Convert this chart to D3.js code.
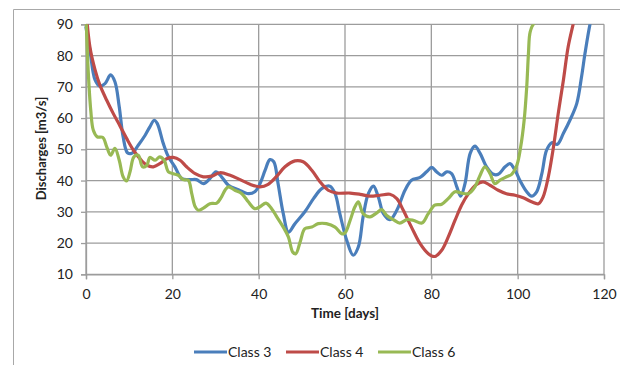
<!DOCTYPE html>
<html>
<head>
<meta charset="utf-8">
<script src="https://cdn.jsdelivr.net/npm/d3@7"></script>
<style>
html,body{margin:0;padding:0;background:#fff;}
svg{display:block;}
text{font-family:Lato,"Open Sans","Liberation Sans",sans-serif;fill:#222;}
</style>
</head>
<body>
<svg id="chart" width="620" height="365"></svg>
<script>
const xTicks = [0, 20, 40, 60, 80, 100, 120];
const yTicks = [10, 20, 30, 40, 50, 60, 70, 80, 90];
const seriesNames = ["Class 3", "Class 4", "Class 6"];
const seriesColors = ["#4a7ebb", "#be4b48", "#98b954"];

const days3 = [0,0.9,2.1,3.2,4.4,5.7,6.7,7.7,8.6,9.6,10.6,12.1,13.7,14.8,15.8,16.5,17.9,19.1,20.6,22.2,24.1,25.6,27.2,28.7,30.1,31.4,33,35.3,37.6,39.1,40.3,41.5,42.6,43.5,44.5,45.7,46.9,48.4,50.7,52.7,54.6,56.5,57.7,58.8,60.4,61.9,63.1,64.2,65.4,66.6,67.7,68.9,70.4,72,73.9,75.4,77.4,78.9,80.1,81.2,82.4,83.6,84.7,85.9,86.8,87.8,89,90.1,91.3,92.8,94.4,95.5,97.1,98.2,99.4,100.5,102.1,103.2,104.4,105.6,106.7,107.9,109.2,110.6,112.1,113.7,114.8,115.6,116.8,117.5];
const class3 = [89,81.8,72.2,70.2,71,73.8,71.6,63.6,54,48.9,48.7,51.3,54.5,57.2,59.3,58.3,51.9,47.6,44.4,40.6,40.3,40.3,39,40.6,42.8,41.2,38.5,37.1,35.8,36.4,39,43.3,46.7,46,39,29.4,23.5,26.2,30,34.2,37.4,38.2,35.8,29.4,20.9,16.1,18.8,28.4,35.8,38.2,34.8,29.4,27.5,30.5,36.9,40.1,41,42.8,44.2,42.8,41.7,42.8,42.2,38,35,39,48.7,51,48.7,44.4,42,42,44.4,45.4,43.3,40.1,36.4,35,36.4,42.2,49.7,52.1,51.6,55.1,59.3,64.7,73.2,80.7,90.3,94];

const days4 = [0,0.9,2.1,3.2,4.8,6.3,7.9,9.4,11,12.5,14.1,15.6,17.1,18.7,20.2,21.8,23.3,25.3,27.2,29.1,31,33.4,35.7,38,40.3,42.2,44.2,46.1,48.4,50.3,52.3,54.2,56.1,58.1,61.2,63.5,65.8,68.1,70.4,72,73.5,75.4,77.4,79.3,80.8,82.4,83.9,85.5,87,88.6,90.3,92,93.6,95.5,97.4,99.4,101.3,103.2,104.8,105.9,107.1,108.3,109.4,110.6,111.7,112.9,113.5];
const class4 = [95,82.8,75.4,70.6,65.7,61.5,57.4,53.5,49.7,47,44.9,44.4,45.4,47,47.4,46.5,44.4,42.2,41.2,41.4,42.5,41.7,40.3,38.8,38,38.8,41.4,44.4,46.3,46,43.3,39.6,36.9,36,36,35.6,35,35.3,35.6,34.2,30.5,25.1,19.8,16.6,15.7,17.7,21.9,27.3,32.1,35.8,38.6,39.6,38.5,36.9,35.8,35.3,34.5,33.2,32.6,34.8,41.2,50.8,61.5,72.2,82.8,90.3,94];

const days6 = [0,0.5,1.1,1.7,2.6,3.9,4.8,5.7,6.7,7.7,8.6,9.4,10.2,11.1,12.1,13.1,14.1,14.8,16,17.1,18.1,19.1,20.2,21.4,22.5,23.7,24.5,25.3,26,27.2,28.7,30.3,31.4,32.2,33,34.5,36.1,37.6,39.1,40.3,41.7,43,44.2,45.7,46.9,47.9,48.6,49.6,50.7,52.3,53.8,55.7,57.7,59.2,60,61.2,62.3,63.1,64.2,65.8,67.3,68.5,69.6,71.2,72.7,74.3,75.8,77.8,79.3,80.8,82.4,83.9,85.5,87,88.6,90.1,91.3,92.4,93.6,94.7,95.9,97.4,98.6,99.8,100.7,101.5,102.1,102.5,102.9,103.8,105];
const class6 = [93,75.4,62.5,56.1,54,53.8,50.8,48.1,50.3,46.5,41.2,39.9,42.8,47.6,48.1,44.4,44.9,47.4,46.5,47.6,46.5,42.8,42.2,41.7,40.3,40.1,35.8,31.6,30.5,31.2,32.6,32.8,34.8,36.9,38,36.9,35.8,33.2,31,31.6,32.8,31,28.4,25.1,21.9,17.1,16.6,20.3,24.6,25.1,26.2,26.2,25.1,23,23.2,27.3,31.6,33.2,29.4,28.4,29.6,30.7,28.9,27.5,26.4,27.5,27.3,26.4,29.4,32.1,32.4,34.2,36.4,36,35.8,38,41.7,44.4,42.2,39,40.1,41.2,42,44.9,50.8,59.3,70,80.7,87.6,90.3,91];

const seriesDays = [days3, days4, days6];
const seriesVals = [class3, class4, class6];

const svg = d3.select("#chart");
const x = d3.scaleLinear().domain([0, 120]).range([86, 604]);
const y = d3.scaleLinear().domain([10, 90]).range([274.3, 24.3]);
const gridColor = "#9c9c9c";

// outer frame
svg.append("path")
  .attr("d", "M13.5,365 V9.5 H620")
  .attr("fill", "none").attr("stroke", "#a8a8a8").attr("stroke-width", 1);

// grid
const g = svg.append("g");
g.selectAll("line.h").data(yTicks).enter().append("line")
  .attr("x1", x(0)).attr("x2", x(120))
  .attr("y1", d => y(d)).attr("y2", d => y(d))
  .attr("stroke", gridColor).attr("stroke-width", 1.3);
g.selectAll("line.v").data(xTicks).enter().append("line")
  .attr("y1", y(10)).attr("y2", y(90))
  .attr("x1", d => x(d)).attr("x2", d => x(d))
  .attr("stroke", gridColor).attr("stroke-width", 1.3);

// axes
const yAxis = d3.axisLeft(y).tickValues(yTicks).tickSize(5).tickPadding(8);
const xAxis = d3.axisBottom(x).tickValues(xTicks).tickSize(5).tickPadding(10);
const ya = svg.append("g").attr("transform", `translate(${x(0)},0)`).call(yAxis);
const xa = svg.append("g").attr("transform", `translate(0,${y(10)})`).call(xAxis);
[ya, xa].forEach(a => {
  a.selectAll("path.domain").attr("stroke", gridColor).attr("stroke-width", 1.3);
  a.selectAll(".tick line").attr("stroke", gridColor).attr("stroke-width", 1.3);
  a.selectAll(".tick text").style("font-family", "Lato, 'Open Sans', sans-serif")
    .style("font-size", "14px").attr("fill", "#333");
});

// clip
svg.append("clipPath").attr("id", "plotclip").append("rect")
  .attr("x", x(0) - 2).attr("y", y(90)).attr("width", x(120) - x(0) + 4).attr("height", y(10) - y(90));

const line = d3.line().curve(d3.curveCatmullRom.alpha(0.5))
  .x(d => x(d[0])).y(d => y(d[1]));

const lines = svg.append("g").attr("clip-path", "url(#plotclip)");
seriesNames.forEach((name, i) => {
  const pts = seriesDays[i].map((d, j) => [d, seriesVals[i][j]]);
  lines.append("path").datum(pts)
    .attr("d", line)
    .attr("fill", "none")
    .attr("stroke", seriesColors[i])
    .attr("stroke-width", 3.2)
    .attr("stroke-linejoin", "round")
    .attr("stroke-linecap", "round");
});

// axis titles
svg.append("text")
  .attr("transform", `translate(46,148.5) rotate(-90)`)
  .attr("text-anchor", "middle")
  .style("font-weight", "bold").style("font-size", "13px")
  .text("Discharges [m3/s]");
svg.append("text")
  .attr("x", 345).attr("y", 318)
  .attr("text-anchor", "middle")
  .style("font-weight", "bold").style("font-size", "13.5px")
  .text("Time [days]");

// legend
const legX = [194, 286, 378];
const legY = 352;
seriesNames.forEach((name, i) => {
  svg.append("line")
    .attr("x1", legX[i]).attr("x2", legX[i] + 33)
    .attr("y1", legY).attr("y2", legY)
    .attr("stroke", seriesColors[i]).attr("stroke-width", 3);
  svg.append("text")
    .attr("x", legX[i] + 34).attr("y", legY + 5)
    .style("font-size", "14px").attr("fill", "#333")
    .text(name);
});
</script>
</body>
</html>
